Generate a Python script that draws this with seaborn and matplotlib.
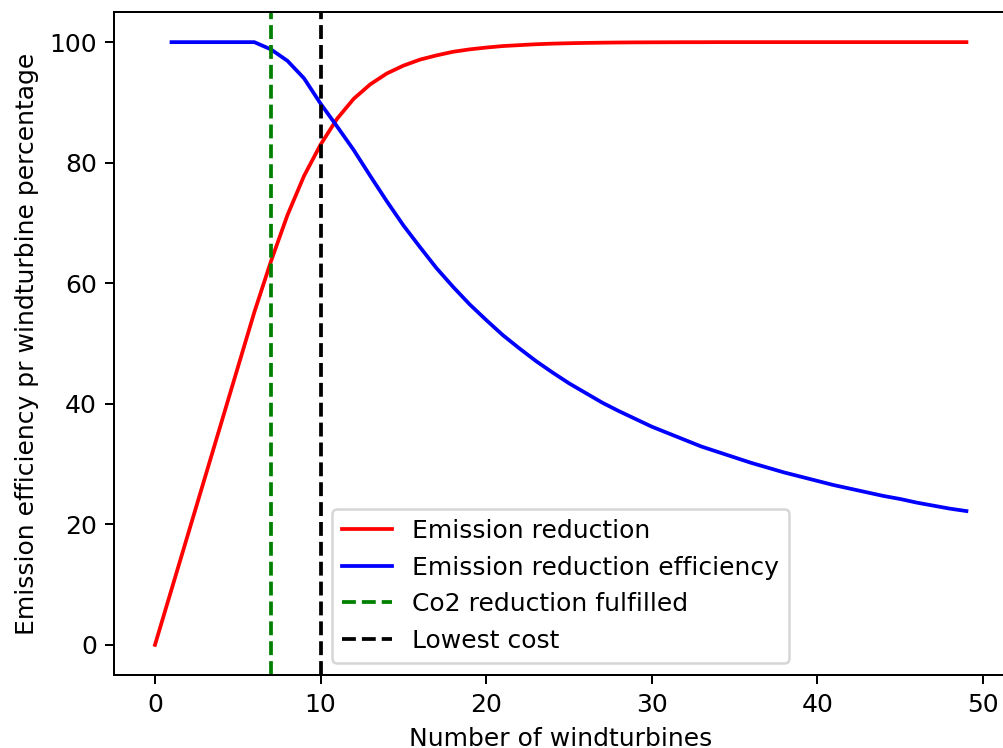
import matplotlib
matplotlib.use("Agg")
import matplotlib.pyplot as plt
import pandas as pd
import seaborn as sns

# Emission reduction (%) for 0..49 turbines
turbines = list(range(50))
reduction = [0, 9.2, 18.4, 27.6, 36.8, 46.0, 55.2, 63.6, 71.3, 77.8,
             83.0, 87.3, 90.6, 93.0, 94.8, 96.1, 97.1, 97.8, 98.4, 98.8,
             99.1, 99.35, 99.5, 99.65, 99.75, 99.82, 99.87, 99.91, 99.94, 99.96,
             99.97, 99.98, 99.99, 99.99, 100, 100, 100, 100, 100, 100,
             100, 100, 100, 100, 100, 100, 100, 100, 100, 100]

# Efficiency per turbine (%) for 1..49 turbines
eff_turbines = list(range(1, 50))
efficiency = [100, 100, 100, 100, 100, 100, 98.8, 96.9, 94.0, 89.8,
              86.0, 82.1, 77.8, 73.6, 69.6, 66.0, 62.5, 59.4, 56.5, 53.9,
              51.4, 49.2, 47.1, 45.2, 43.4, 41.8, 40.2, 38.8, 37.5, 36.2,
              35.1, 34.0, 32.9, 32.0, 31.1, 30.2, 29.4, 28.6, 27.9, 27.2,
              26.5, 25.9, 25.3, 24.7, 24.2, 23.6, 23.1, 22.6, 22.2]

co2_fulfilled = 7
lowest_cost = 10

df_red = pd.DataFrame({'turbines': turbines, 'value': reduction})
df_eff = pd.DataFrame({'turbines': eff_turbines, 'value': efficiency})

dpi = 180
fig = plt.figure(figsize=(1003 / dpi, 748 / dpi), dpi=dpi)
ax = fig.add_axes([114.4 / 1003, 73 / 748, (1007 - 114.4) / 1003, 663 / 748])

sns.lineplot(data=df_red, x='turbines', y='value', color='red', label='Emission reduction', ax=ax)
sns.lineplot(data=df_eff, x='turbines', y='value', color='blue', label='Emission reduction efficiency', ax=ax)
ax.axvline(co2_fulfilled, color='green', linestyle='--', label='Co2 reduction fulfilled')
ax.axvline(lowest_cost, color='black', linestyle='--', label='Lowest cost')

ax.set_xlim(-2.45, 51.45)
ax.set_ylim(-5, 105)
ax.set_xlabel('Number of windturbines')
ax.set_ylabel('Emission efficiency pr windturbine percentage')
ax.legend(loc='lower center')

fig.savefig('out.png', dpi=dpi)
